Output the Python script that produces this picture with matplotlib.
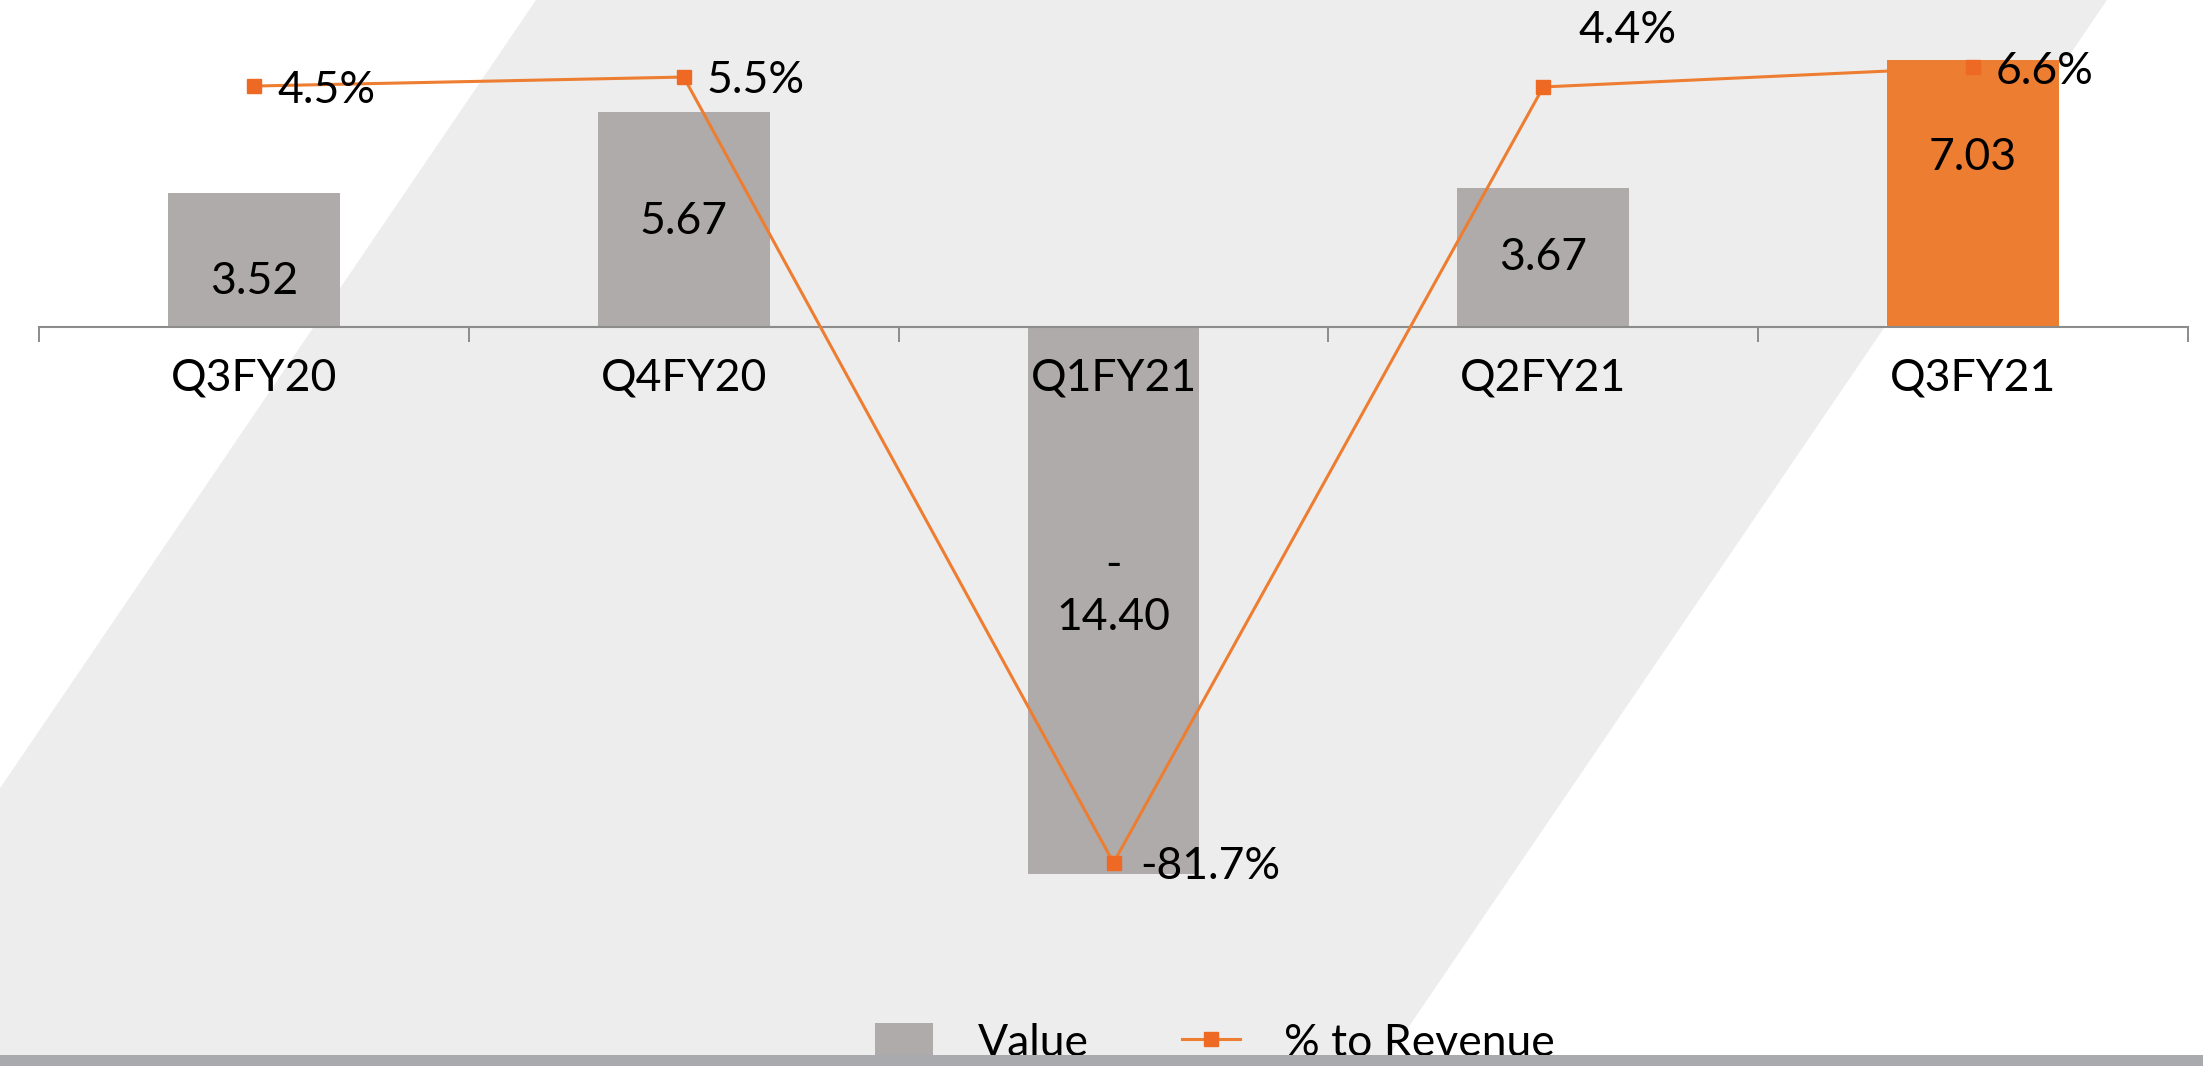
import matplotlib
matplotlib.use('Agg')
import matplotlib.pyplot as plt
from matplotlib.patches import Polygon, Rectangle, Patch
from matplotlib.lines import Line2D

plt.rcParams['font.family'] = ['Lato', 'DejaVu Sans']

# ---- data ----
quarters = ['Q3FY20', 'Q4FY20', 'Q1FY21', 'Q2FY21', 'Q3FY21']
values = [3.52, 5.67, -14.40, 3.67, 7.03]
pct_revenue = [4.5, 5.5, -81.7, 4.4, 6.6]
value_labels = ['3.52', '5.67', '-\n14.40', '3.67', '7.03']
pct_labels = ['4.5%', '5.5%', '-81.7%', '4.4%', '6.6%']

# ---- style ----
BG = '#EDEDED'; GREY = '#AFABAB'; ORANGE = '#ED7D31'; MARK = '#EE6A24'
AXIS = '#8C8C8C'; STRIP = '#A9AAAD'
FS = 32

W, H = 2203, 1066
fig = plt.figure(figsize=(W / 100, H / 100), dpi=100)
fig.patch.set_facecolor('white')

def fx(px): return px / W
def fy(py): return 1 - py / H

# slanted light-grey band behind the chart
slope = 0.68
fig.add_artist(Polygon([(fx(536), fy(0)), (fx(2107), fy(0)),
                        (fx(2107 - slope * H), fy(H)), (fx(536 - slope * H), fy(H))],
                       closed=True, transform=fig.transFigure, fc=BG, ec='none', zorder=0))

# axes placed in pixel space: x from 39 to 2188, y from 0 to 1000
top_px, bot_px = 0, 1000
ax = fig.add_axes([fx(39), fy(bot_px), (2188 - 39) / W, (bot_px - top_px) / H])
ax.set_facecolor('none')
ax.set_axisbelow(False)   # category labels sit on top of the negative bar

zero1, ppu1 = 327, 38.0     # primary: zero line pixel, pixels per unit
zero2, ppu2 = 126.6, 9.01   # secondary
ax.set_ylim(-(bot_px - zero1) / ppu1, (zero1 - top_px) / ppu1)
ax.set_xlim(-0.5, len(quarters) - 0.5)

x = list(range(len(quarters)))
colors = [GREY] * (len(quarters) - 1) + [ORANGE]
ax.bar(x, values, width=0.4, color=colors, zorder=2)

# bar value labels (pixel nudges, downward positive)
nudges = [21, 2, -9, 0, -36]
for i, (v, lab) in enumerate(zip(values, value_labels)):
    ax.annotate(lab, (i, v / 2), xytext=(0, -nudges[i]), textcoords='offset pixels',
                ha='center', va='center', fontsize=FS, color='black', linespacing=1.35, zorder=5)

for s in ['top', 'left', 'right']:
    ax.spines[s].set_visible(False)
ax.spines['bottom'].set_position(('data', 0))
ax.spines['bottom'].set_color(AXIS)
ax.spines['bottom'].set_linewidth(1.5)
ax.set_yticks([])
ax.set_xticks(x)
ax.set_xticklabels(quarters, fontsize=FS)
ax.set_xticks([i - 0.5 for i in range(len(quarters) + 1)], minor=True)
ax.tick_params(axis='x', which='major', length=0, pad=22)
ax.tick_params(axis='x', which='minor', length=11, width=1.4, color=AXIS, direction='out')

# secondary axis: % to revenue
ax2 = ax.twinx()
ax2.set_ylim(-(bot_px - zero2) / ppu2, (zero2 - top_px) / ppu2)
for s in ax2.spines.values():
    s.set_visible(False)
ax2.set_yticks([])
ax2.plot(x, pct_revenue, color=ORANGE, lw=2.2, marker='s', ms=10, mfc=MARK, mec=MARK, zorder=3)

offsets = [(24, -4), (23, -3), (27, -4), (35, 56), (23, -4)]
for i, (p, lab) in enumerate(zip(pct_revenue, pct_labels)):
    ax2.annotate(lab, (i, p), xytext=offsets[i], textcoords='offset pixels',
                 ha='left', va='center', fontsize=FS, color='black')

# legend
handles = [Patch(fc=GREY, ec='none'),
           Line2D([], [], color=ORANGE, lw=2.2, marker='s', ms=10, mfc=MARK, mec=MARK)]
fig.legend(handles, ['Value', '% to Revenue'], loc='center',
           bbox_to_anchor=(fx(1215), fy(1043)), ncol=2, frameon=False, fontsize=FS,
           handlelength=1.3, handleheight=0.8, handletextpad=1.0, columnspacing=2.1)

# grey strip along the bottom edge, drawn over the legend
fig.add_artist(Rectangle((0, 0), 1, 11 / H, transform=fig.transFigure,
                         fc=STRIP, ec='none', zorder=10))

fig.savefig('out.png', dpi=100, facecolor='white')
